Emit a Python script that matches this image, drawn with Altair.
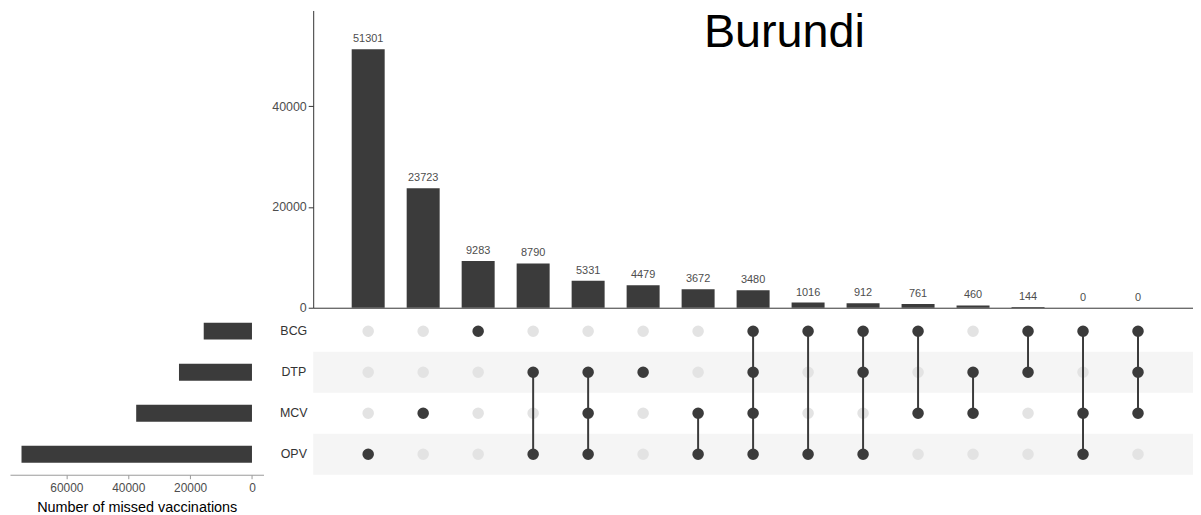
import altair as alt
import pandas as pd

# ---- data ----
sets = ["BCG", "DTP", "MCV", "OPV"]
set_sizes = [15596, 23596, 37427, 74502]
combo_counts = [51301, 23723, 9283, 8790, 5331, 4479, 3672, 3480, 1016, 912, 761, 460, 144, 0, 0]
combo_members = [
    ["OPV"], ["MCV"], ["BCG"], ["DTP", "OPV"], ["DTP", "MCV", "OPV"], ["DTP"],
    ["MCV", "OPV"], ["BCG", "DTP", "MCV", "OPV"], ["BCG", "OPV"], ["BCG", "DTP", "OPV"],
    ["BCG", "MCV"], ["DTP", "MCV"], ["BCG", "DTP"], ["BCG", "MCV", "OPV"], ["BCG", "DTP", "MCV"],
]
striped_sets = ["DTP", "OPV"]
title_text = "Burundi"
top_ticks = [0, 20000, 40000]
left_ticks = [0, 20000, 40000, 60000]

DARK = "#3b3b3b"
LIGHT = "#e3e3e3"
STRIPE = "#f5f5f5"
FONT = "Liberation Sans"

combo_ids = [f"c{i+1:02d}" for i in range(len(combo_counts))]

W_MAIN = 885
H_TOP = 299
H_MAT = 165
W_LEFT = 255

x_scale = alt.Scale(domain=combo_ids, paddingInner=0.4, paddingOuter=0.7)
y_rows = alt.Scale(domain=sets, paddingInner=0, paddingOuter=0)

# ---- top intersection bars ----
df_top = pd.DataFrame({"combo": combo_ids, "count": combo_counts})
base_top = alt.Chart(df_top).encode(
    x=alt.X("combo:N", scale=x_scale,
            axis=alt.Axis(labels=False, ticks=False, title=None, domainColor="#333333", domainWidth=1)),
)
bars_top = base_top.mark_bar(color=DARK).encode(
    y=alt.Y("count:Q", scale=alt.Scale(domain=[0, 59000], nice=False),
            axis=alt.Axis(values=top_ticks, format="d", title=None, grid=False,
                          labelFontSize=12.5, labelColor="#4d4d4d", tickSize=5, labelPadding=2,
                          tickColor="#333333", domainColor="#333333"))
)
text_top = base_top.mark_text(fontSize=11, color="#4d4d4d", baseline="alphabetic", dy=-7).encode(
    y="count:Q", text=alt.Text("count:Q", format="d")
)
title_layer = alt.Chart(pd.DataFrame({"t": [title_text]})).mark_text(
    fontSize=47, color="#000000", align="left", baseline="top"
).encode(x=alt.value(393), y=alt.value(0), text="t:N")
top = alt.layer(bars_top, text_top, title_layer).properties(width=W_MAIN, height=H_TOP)

# ---- spacer (invisible, kept well inside its cell) ----
spacer = alt.Chart(pd.DataFrame({"a": [0]})).mark_point(opacity=0).encode(
    x=alt.value(100), y=alt.value(100)
).properties(width=W_LEFT, height=H_TOP)

# ---- matrix ----
dots = []
for cid, mem in zip(combo_ids, combo_members):
    for s in sets:
        dots.append({"combo": cid, "set": s, "member": 1 if s in mem else 0})
df_dots = pd.DataFrame(dots)

lines = []
for cid, mem in zip(combo_ids, combo_members):
    if len(mem) > 1:
        ordered = [s for s in sets if s in mem]
        lines.append({"combo": cid, "s1": ordered[0], "s2": ordered[-1]})
df_lines = pd.DataFrame(lines)

df_stripes = pd.DataFrame({"set": striped_sets})

stripes = alt.Chart(df_stripes).mark_rect(color=STRIPE).encode(
    y=alt.Y("set:N", scale=y_rows, sort=sets,
            axis=alt.Axis(title=None, domain=False, ticks=False, labelAlign="center",
                          labelPadding=20, labelFontSize=12.5, labelColor="#333333"))
)
circles = alt.Chart(df_dots).mark_circle(size=135, opacity=1).encode(
    x=alt.X("combo:N", scale=x_scale, axis=None),
    y=alt.Y("set:N", scale=y_rows, sort=sets),
    color=alt.when(alt.datum.member == 1).then(alt.value(DARK)).otherwise(alt.value(LIGHT)),
)
rules = alt.Chart(df_lines).mark_rule(color=DARK, strokeWidth=2).encode(
    x=alt.X("combo:N", scale=x_scale, axis=None),
    y=alt.Y("s1:N", scale=y_rows, sort=sets),
    y2="s2:N",
)
matrix = alt.layer(stripes, circles, rules).properties(width=W_MAIN, height=H_MAT)

# ---- left set-size bars ----
df_sets = pd.DataFrame({"set": sets, "size": set_sizes})
left = alt.Chart(df_sets).mark_bar(color=DARK).encode(
    y=alt.Y("set:N", sort=sets, axis=None,
            scale=alt.Scale(domain=sets, paddingInner=0.59, paddingOuter=0.295)),
    x=alt.X("size:Q",
            scale=alt.Scale(domain=[-3725, 78227], reverse=True, nice=False, zero=False),
            axis=alt.Axis(values=left_ticks, format="d", title="Number of missed vaccinations",
                          grid=False, labelFontSize=12, labelColor="#4d4d4d", tickSize=4,
                          labelPadding=4, tickColor="#999999", domainColor="#999999",
                          titleFontSize=14.5, titleFontWeight="normal", titleColor="#000000",
                          titlePadding=7)),
).properties(width=W_LEFT, height=H_MAT)

chart = alt.concat(
    spacer, top, left, matrix, columns=2, spacing={"row": 3, "column": 50}, bounds="flush"
).properties(
    padding={"left": 2, "top": 0, "right": 0, "bottom": 0}
).configure(
    font=FONT, view=alt.ViewConfig(stroke=None)
)

chart.save("out.html", embed_options={"renderer": "svg", "actions": False})
